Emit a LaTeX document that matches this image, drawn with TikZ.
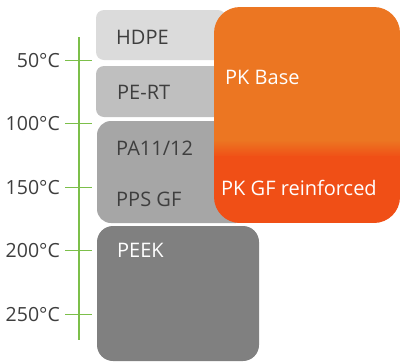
\documentclass[tikz,border=0pt]{standalone}
\usepackage{fontspec}
\setmainfont{Open Sans}
\definecolor{hdpegray}{HTML}{DBDBDB}
\definecolor{pertgray}{HTML}{BFBFBF}
\definecolor{pagray}{HTML}{A6A6A6}
\definecolor{peekgray}{HTML}{808080}
\definecolor{pkorange}{HTML}{EC7622}
\definecolor{pkred}{HTML}{F04F16}
\definecolor{axisgreen}{HTML}{7CBF4A}
\definecolor{labeltext}{HTML}{3E3E3E}
\tikzset{
  boxlabel/.style={anchor=base west, inner sep=0pt, text=labeltext, font=\fontsize{20}{23}\selectfont},
  pklabel/.style={anchor=base west, inner sep=0pt, text=white, font=\fontsize{20}{23}\selectfont},
  templabel/.style={anchor=base east, inner sep=0pt, text=labeltext, font=\fontsize{19.5}{22}\selectfont},
  axisline/.style={draw=axisgreen, line width=1.3pt},
}
\begin{document}
\begin{tikzpicture}[x=1pt, y=-1pt]
\useasboundingbox (0,0) rectangle (401,362);

% material bands
\fill[hdpegray, rounded corners=8pt] (96,10) rectangle (226,60);
\fill[pertgray, rounded corners=8pt] (96,66) rectangle (240,117);
\fill[pagray, rounded corners=14pt] (97,121) rectangle (250,223);
\fill[peekgray, rounded corners=16pt] (97,226) rectangle (259,361);

% PK block with orange-to-red transition
\begin{scope}
  \clip[rounded corners=26pt] (214,7) rectangle (400,223);
  \fill[pkorange] (214,7) rectangle (400,141);
  \shade[top color=pkorange, bottom color=pkred] (214,140) rectangle (400,157);
  \fill[pkred] (214,156) rectangle (400,223);
\end{scope}

% band labels
\node[boxlabel] (hdpe) at (116,44) {HDPE};
\node[boxlabel] (pert) at (117,99) {PE-RT};
\node[boxlabel] (pa) at (116,155) {PA11/12};
\node[boxlabel] (pps) at (116,206) {PPS GF};
\node[boxlabel, text=white] (peek) at (117,257.5) {PEEK};
\node[pklabel] (pkbase) at (225,84.5) {PK Base};
\node[pklabel] (pkgf) at (221,195) {PK GF reinforced};

% temperature axis
\coordinate (axtop) at (79,37);
\coordinate (axbot) at (79,340);
\draw[axisline] (axtop) -- (axbot);
\foreach \t/\y in {50/60.3, 100/123.8, 150/187.3, 200/250.8, 250/314.3}{
  \coordinate (tl\t) at (65,\y);
  \coordinate (tr\t) at (92,\y);
  \draw[axisline] (tl\t) -- (tr\t);
  \node[templabel] (temp\t) at (60,\y+6.7) {\t°C};
}
\end{tikzpicture}
\end{document}
